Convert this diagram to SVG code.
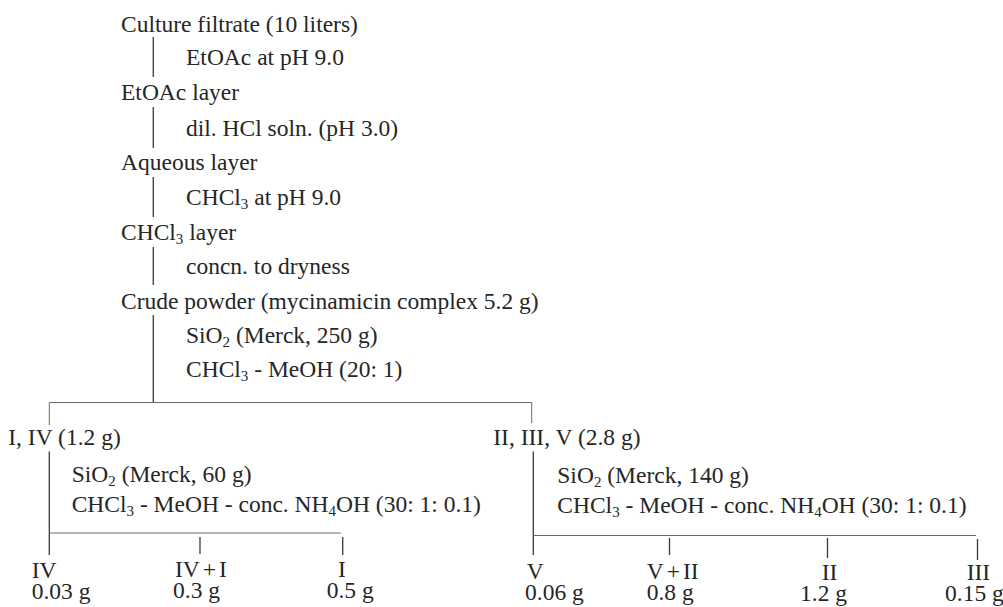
<svg xmlns="http://www.w3.org/2000/svg" width="1003" height="607" viewBox="0 0 1003 607">
<style>
text{font-family:"Liberation Serif","Times New Roman",serif;font-size:23.5px;fill:#262626}
.s{font-size:15px}
.c line{stroke:#3a3a3a;stroke-width:1.3}
.c .h{stroke:#6a6a6a;stroke-width:1}
</style>
<rect width="1003" height="607" fill="#fff"/>
<g class="c" id="connectors">
<line x1="153.3" y1="37" x2="153.3" y2="77"/>
<line x1="153.3" y1="107" x2="153.3" y2="148"/>
<line x1="153.3" y1="177" x2="153.3" y2="217"/>
<line x1="153.3" y1="247" x2="153.3" y2="285"/>
<line x1="153.3" y1="315" x2="153.3" y2="402.5"/>
<line class="h" x1="49.3" y1="402.5" x2="531.7" y2="402.5"/>
<line class="h" x1="49.3" y1="402.5" x2="49.3" y2="425"/>
<line class="h" x1="531.7" y1="402.5" x2="531.7" y2="423"/>
<line x1="49.3" y1="451.5" x2="49.3" y2="555"/>
<line x1="533.3" y1="451.5" x2="533.3" y2="555"/>
<line class="h" x1="49.3" y1="533" x2="341" y2="533"/>
<line x1="200" y1="537" x2="200" y2="554"/>
<line x1="342.7" y1="537" x2="342.7" y2="555"/>
<line class="h" x1="533.3" y1="535.5" x2="976" y2="535.5"/>
<line x1="669.5" y1="538" x2="669.5" y2="555"/>
<line x1="827.5" y1="538" x2="827.5" y2="558"/>
<line x1="977.5" y1="539" x2="977.5" y2="560"/>
</g>
<g id="n-culture"><text x="121" y="31.5">Culture filtrate (10 liters)</text></g>
<g id="r-etoac"><text x="186" y="65">EtOAc at pH 9.0</text></g>
<g id="n-etoac"><text x="121" y="100">EtOAc layer</text></g>
<g id="r-hcl"><text x="186" y="136">dil. HCl soln. (pH 3.0)</text></g>
<g id="n-aqueous"><text x="121" y="170">Aqueous layer</text></g>
<g id="r-chcl3"><text x="186" y="205">CHCl<tspan class="s" dy="4">3</tspan><tspan dy="-4"> at pH 9.0</tspan></text></g>
<g id="n-chcl3"><text x="121" y="240">CHCl<tspan class="s" dy="4">3</tspan><tspan dy="-4"> layer</tspan></text></g>
<g id="r-concn"><text x="186" y="274">concn. to dryness</text></g>
<g id="n-crude"><text x="121" y="308.5">Crude powder (mycinamicin complex 5.2 g)</text></g>
<g id="r-sio2-1">
<text x="186" y="343">SiO<tspan class="s" dy="4">2</tspan><tspan dy="-4"> (Merck, 250 g)</tspan></text>
<text x="186" y="377">CHCl<tspan class="s" dy="4">3</tspan><tspan dy="-4"> - MeOH (20: 1)</tspan></text>
</g>
<g id="n-i-iv"><text x="8.3" y="445">I, IV (1.2 g)</text></g>
<g id="n-ii-iii-v"><text x="493.3" y="445">II, III, V (2.8 g)</text></g>
<g id="r-sio2-2">
<text x="71.7" y="482">SiO<tspan class="s" dy="4">2</tspan><tspan dy="-4"> (Merck, 60 g)</tspan></text>
<text x="71.7" y="512">CHCl<tspan class="s" dy="4">3</tspan><tspan dy="-4"> - MeOH - conc. NH</tspan><tspan class="s" dy="4">4</tspan><tspan dy="-4">OH (30: 1: 0.1)</tspan></text>
</g>
<g id="r-sio2-3">
<text x="557.3" y="483">SiO<tspan class="s" dy="4">2</tspan><tspan dy="-4"> (Merck, 140 g)</tspan></text>
<text x="557.3" y="513">CHCl<tspan class="s" dy="4">3</tspan><tspan dy="-4"> - MeOH - conc. NH</tspan><tspan class="s" dy="4">4</tspan><tspan dy="-4">OH (30: 1: 0.1)</tspan></text>
</g>
<g id="n-iv"><text x="31.7" y="578">IV</text><text x="31.7" y="599">0.03 g</text></g>
<g id="n-iv-i"><text x="175" y="577">IV<tspan dx="3">+</tspan><tspan dx="3">I</tspan></text><text x="173" y="598">0.3 g</text></g>
<g id="n-i"><text x="338" y="577">I</text><text x="326.7" y="598">0.5 g</text></g>
<g id="n-v"><text x="526.7" y="579">V</text><text x="525" y="600">0.06 g</text></g>
<g id="n-v-ii"><text x="646.7" y="579">V<tspan dx="3">+</tspan><tspan dx="3">II</tspan></text><text x="646.7" y="600">0.8 g</text></g>
<g id="n-ii"><text x="821.7" y="580">II</text><text x="800" y="601">1.2 g</text></g>
<g id="n-iii"><text x="966.7" y="580">III</text><text x="945" y="601">0.15 g</text></g>
</svg>
